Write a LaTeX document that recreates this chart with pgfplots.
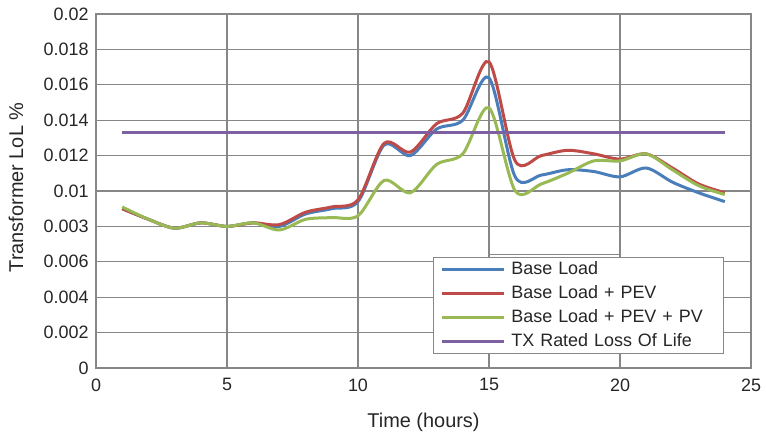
\documentclass[border=0pt]{standalone}
\usepackage{pgfplots}
\pgfplotsset{compat=1.18}
\usepackage{fontspec}
\setmainfont{Liberation Sans}
\definecolor{cBlue}{RGB}{74,126,187}
\definecolor{cRed}{RGB}{190,75,72}
\definecolor{cGreen}{RGB}{152,185,84}
\definecolor{cPurple}{RGB}{125,96,160}
\definecolor{cGrid}{RGB}{135,135,135}
\usepackage{pgfplotstable}
\pgfplotstableread{
h blue red green
1 0.0090 0.0090 0.0091
2 0.0084 0.0084 0.0084
3 0.0079 0.0079 0.0079
4 0.0082 0.0082 0.0082
5 0.0080 0.0080 0.0080
6 0.0082 0.0082 0.0082
7 0.0080 0.0081 0.0078
8 0.0087 0.0088 0.0084
9 0.0090 0.0091 0.0085
10 0.0094 0.0095 0.0086
11 0.0126 0.0127 0.0106
12 0.0120 0.0122 0.0099
13 0.0135 0.0138 0.0115
14 0.0140 0.0144 0.0121
15 0.0164 0.0173 0.0147
16 0.0108 0.0117 0.0100
17 0.0109 0.0120 0.0104
18 0.0112 0.0123 0.0110
19 0.0111 0.0121 0.0117
20 0.0108 0.0118 0.0117
21 0.0113 0.0121 0.0121
22 0.0105 0.0113 0.0112
23 0.0099 0.0104 0.0103
24 0.0094 0.0099 0.0098
}\loadtable
\begin{document}
\begin{tikzpicture}
\begin{axis}[
  at={(0,0)}, anchor=south west,
  scale only axis, width=655bp, height=354bp,
  xmin=0, xmax=25, ymin=0, ymax=0.02,
  xtick={0,5,10,15,20,25},
  xticklabels={0,5,10,15,20,25},
  ytick={0,0.002,0.004,0.006,0.008,0.01,0.012,0.014,0.016,0.018,0.02},
  yticklabels={0,0.002,0.004,0.006,0.003,0.01,0.012,0.014,0.016,0.018,0.02},
  scaled y ticks=false,
  major tick length=0pt,
  grid=major,
  major grid style={draw=cGrid, line width=1.2bp},
  axis line style={draw=cGrid, line width=1.2bp},
  tick label style={font=\fontsize{18}{21}\selectfont, text=black!85},
  yticklabel style={xshift=-4bp},
  xticklabel style={yshift=-7bp},
  xlabel={Time (hours)},
  ylabel={Transformer LoL \%},
  label style={font=\fontsize{20}{24}\selectfont, text=black!85},
  xlabel style={at={(axis description cs:0.5,0)}, anchor=center, yshift=-54bp},
  ylabel style={at={(axis description cs:-0.122,0.51)}, anchor=center},
  legend image code/.code={\draw[#1] (0bp,0bp) -- (62bp,0bp);},
  legend cell align=left,
  legend style={at={(axis cs:12.86,0.00627)}, anchor=north west,
    draw=cGrid, line width=1bp, fill=white,
    inner xsep=7bp, inner ysep=0bp, row sep=0bp, column sep=3bp,
    font=\fontsize{18}{21}\selectfont,
    nodes={inner sep=3bp, text height=14bp, text depth=4bp, text width=202bp, text=black!85}},
]
\fill[white] (axis cs:15.03,0.00025) rectangle (axis cs:19.97,0.0064);
\draw[cGrid, line width=1.2bp] (axis cs:15,0.0064) -- (axis cs:20,0.0064);
\addplot[cBlue, line width=3bp, smooth] table[x=h, y=blue] {\loadtable};
\addlegendentry{Base Load}
\addplot[cRed, line width=3bp, smooth] table[x=h, y=red] {\loadtable};
\addlegendentry{Base Load + PEV}
\addplot[cGreen, line width=3bp, smooth] table[x=h, y=green] {\loadtable};
\addlegendentry{Base Load + PEV + PV}
\addplot[cPurple, line width=3bp] coordinates {(1,0.01333) (24,0.01333)};
\addlegendentry{TX Rated Loss Of Life}
\end{axis}
\pgfresetboundingbox
\path[use as bounding box] (-96bp,-67bp) rectangle (670bp,368bp);
\end{tikzpicture}
\end{document}
